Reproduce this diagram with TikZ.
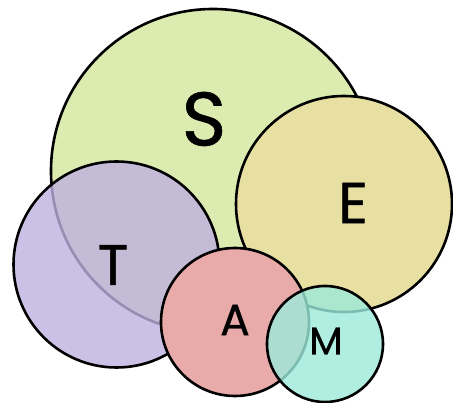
\documentclass[tikz,border=0pt]{standalone}
\usepackage{fontspec}
\setmainfont{Poppins}
\newfontfamily\letterfont{Poppins}[FakeBold=0.8]
\definecolor{sfill}{RGB}{220,236,176}
\definecolor{efill}{RGB}{232,223,162}
\definecolor{tfill}{RGB}{190,176,224}
\definecolor{afill}{RGB}{233,171,170}
\definecolor{mfill}{RGB}{156,234,219}
\tikzset{
  disc/.style={circle, draw=black, line width=2.6pt, inner sep=0pt, minimum size=#1},
  letter/.style={inner sep=0pt, text=black, font=\letterfont\fontsize{#1}{#1}\selectfont}
}
\begin{document}
\begin{tikzpicture}[x=1pt, y=-1pt]
  \useasboundingbox (0,0) rectangle (453,403);
  % circles, back to front
  \node[disc=324pt, fill=sfill] (S) at (213,171) {};
  \node[disc=216pt, fill=efill] (E) at (344,204) {};
  \node[disc=206pt, fill=tfill, fill opacity=0.8] (T) at (116.5,264.5) {};
  \node[disc=148pt, fill=afill] (A) at (235,322) {};
  \node[disc=116pt, fill=mfill, fill opacity=0.8] (M) at (325,344) {};
  % letters
  \node[letter=76pt] (lS) at (204,119) {S};
  \node[letter=58pt] (lE) at (353,203) {E};
  \node[letter=57pt] (lT) at (113,265) {T};
  \node[letter=44pt] (lA) at (235,320) {A};
  \node[letter=39pt] (lM) at (326,341) {M};
\end{tikzpicture}
\end{document}
